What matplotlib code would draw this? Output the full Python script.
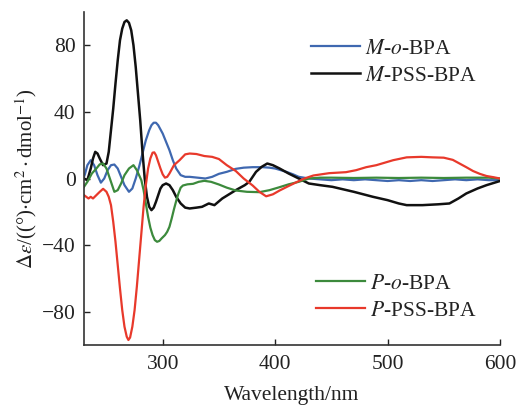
import matplotlib
matplotlib.use("Agg")
import matplotlib.pyplot as plt

plt.rcParams["font.family"] = ["Liberation Serif", "DejaVu Serif"]
plt.rcParams["mathtext.fontset"] = "stix"

# --- data ---
m_pss_x = [230, 233, 236, 238, 240, 242, 244, 247, 250, 252, 254, 256, 258, 260, 262, 264,
           266, 268, 270, 272, 274, 276, 278, 280, 282, 284, 286, 288, 290, 292, 294, 296,
           298, 300, 303, 306, 309, 312, 316, 320, 324, 330, 335, 341, 346, 353, 365, 373,
           377, 383, 388, 393, 398, 404, 412, 421, 430, 440, 451, 470, 487, 500, 510, 517,
           531, 545, 555, 563, 570, 580, 588, 600]
m_pss_y = [0, -1, 6, 12, 16, 15, 12, 8, 9, 16, 29, 42, 57, 71, 83, 90,
           94, 95, 93.5, 89, 80, 67, 51, 35, 16, 0, -11, -17, -19, -17.5, -14, -10,
           -6, -4, -3, -4, -7, -11, -15, -17.5, -18, -17.5, -17, -15, -16, -12, -7, -4,
           -2, 4, 7, 9, 8, 6, 3, 0, -3, -4, -5, -8, -11, -13, -15, -16,
           -16, -15.5, -15, -12, -9, -6, -4, -1.5]

m_o_x = [230, 231, 233, 236, 239, 242, 245, 248, 251, 254, 257, 260, 263, 266, 270, 273,
         276, 279, 282, 285, 288, 290, 292, 294, 296, 298, 300, 303, 306, 309, 312, 316,
         320, 324, 331, 338, 344, 350, 357, 365, 372, 380, 389, 395, 400, 405, 410, 416,
         421, 430, 440, 450, 460, 470, 480, 490, 500, 510, 520, 530, 540, 550, 560, 570,
         580, 590, 600]
m_o_y = [1, 3, 8, 11, 8, 2, -2.5, 0, 5, 8, 8.4, 6, 1, -4, -8, -6,
         0, 7, 15, 23, 29, 32, 33.5, 33.5, 32, 29.5, 27, 22, 17, 11, 6, 2,
         1, 1, 0.5, 0, 1, 2.8, 4, 5.8, 6.5, 6.8, 6.8, 6.5, 6, 5, 4, 2.5,
         1, 0, -0.5, -1, -0.5, -1, -0.5, -1, -1.5, -1, -1.5, -1, -1.5, -1, -0.5, -1,
         -0.5, -1, -1]

p_o_x = [230, 233, 237, 241, 244, 247, 250, 253, 255, 257, 260, 263, 266, 270, 274, 277,
         279, 281, 283, 285, 287, 289, 291, 293, 295, 297, 299, 302, 304, 306, 308, 310,
         312, 314, 316, 318, 322, 327, 332, 337, 343, 350, 357, 365, 375, 386, 395, 404,
         412, 421, 430, 440, 450, 470, 490, 510, 530, 550, 570, 590, 600]
p_o_y = [-5, -2, 3, 6, 8.5, 9, 6, 0, -4, -8, -7, -3, 2, 6, 8, 5,
         2, -1, -7, -15, -23, -29.5, -34, -37, -38, -37.5, -36, -34, -32, -29, -24, -18.5,
         -13.5, -9, -5.5, -4.2, -3.5, -3.2, -2, -1.4, -2, -3.6, -5.5, -7.2, -8, -8.2, -7, -5.2,
         -3.5, -2, 0, 0.5, 0.5, 0.3, 0.5, 0.3, 0.5, 0.3, 0.5, 0.5, 0]

p_pss_x = [230, 232, 234, 236, 238, 241, 244, 247, 250, 252, 254, 256, 258, 260, 262, 264,
           266, 268, 269.5, 271, 273, 275, 277, 279, 281, 283, 285, 287, 289, 291, 292.5, 294,
           296, 298, 300, 302, 304, 306, 308, 310, 315, 320, 324, 330, 337, 344, 350, 357,
           365, 372, 380, 386, 392, 398, 404, 412, 419, 426, 434, 448, 463, 472, 481, 490,
           496, 505, 517, 530, 540, 550, 558, 564, 570, 576, 582, 588, 594, 600]
p_pss_y = [-10, -11, -12, -11, -12, -10, -8, -6.2, -8, -11, -16, -26, -38, -52, -66, -79,
           -89, -95, -97, -95.5, -89, -79, -65, -49, -33, -17, -4, 6, 12, 15.5, 15.7, 14,
           10, 6, 2.5, 0.5, 1, 3, 5.5, 8, 11, 14.5, 15, 14.7, 13.5, 13, 11.7, 8,
           4.5, 0, -4.2, -8, -10.7, -9.5, -7.2, -4.5, -2.2, 0, 1.8, 3.2, 3.8, 5, 6.8, 8,
           9.2, 11, 12.7, 13, 12.7, 12.5, 11.2, 9, 6.8, 4.5, 2.8, 1.5, 0.8, 0]

fig = plt.figure(figsize=(5.17, 4.05), dpi=100)
ax = fig.add_axes([84 / 517, 60 / 405, 416 / 517, 333 / 405])

l1, = ax.plot(m_o_x, m_o_y, color="#3f68b0", lw=1.6, label=r"$M$-$o$-BPA")
l2, = ax.plot(m_pss_x, m_pss_y, color="#111111", lw=1.8, label=r"$M$-PSS-BPA")
l3, = ax.plot(p_o_x, p_o_y, color="#3c8a3c", lw=1.6, label=r"$P$-$o$-BPA")
l4, = ax.plot(p_pss_x, p_pss_y, color="#e8392b", lw=1.6, label=r"$P$-PSS-BPA")

ax.set_xlim(230, 600)
ax.set_ylim(-100, 100)
ax.set_xticks([300, 400, 500, 600])
ax.set_yticks([-80, -40, 0, 40, 80])
ax.tick_params(direction="in", length=4, width=1, pad=6, labelsize=15.5, colors="#222222")
ax.tick_params(axis="x", pad=7.5)
for s in ["top", "right"]:
    ax.spines[s].set_visible(False)
for s in ["left", "bottom"]:
    ax.spines[s].set_linewidth(1.2)
    ax.spines[s].set_color("#333333")

ax.set_xlabel("Wavelength/nm", fontsize=15.5, color="#222222", labelpad=8)
ax.set_ylabel(r"$\Delta\varepsilon$/((°)$\cdot$cm$^{2}\cdot$dmol$^{-1}$)",
              fontsize=15, color="#222222", labelpad=2)

leg1 = fig.legend(handles=[l1, l2], loc="upper left", bbox_to_anchor=(300 / 517, 1 - 28 / 405),
                  frameon=False, fontsize=15.5, borderpad=0, handlelength=2.3,
                  handletextpad=0.2, labelspacing=0.33)
leg2 = fig.legend(handles=[l3, l4], loc="upper left", bbox_to_anchor=(305 / 517, 1 - 263 / 405),
                  frameon=False, fontsize=15.5, borderpad=0, handlelength=2.3,
                  handletextpad=0.2, labelspacing=0.33)
for leg in (leg1, leg2):
    for t in leg.get_texts():
        t.set_color("#222222")

fig.savefig("out.png", dpi=100)
